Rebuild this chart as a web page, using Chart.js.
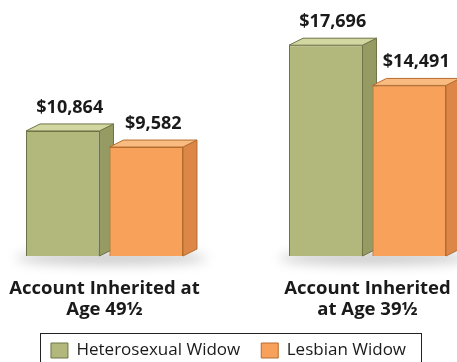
<!DOCTYPE html>
<html>
<head>
<meta charset="utf-8">
<title>Inherited Account Balances</title>
<script src="https://cdn.jsdelivr.net/npm/chart.js@4.4.1/dist/chart.umd.min.js"></script>
<style>
  html, body { margin: 0; padding: 0; background: #fff; overflow: hidden; }
  #wrap { width: 457px; height: 362px; overflow: hidden; }
</style>
</head>
<body>
<div id="wrap">
  <canvas id="inheritChart" width="457" height="369"></canvas>
</div>
<script>
// Chart data
const categories = [['Account Inherited at', 'Age 49½'], ['Account Inherited', 'at Age 39½']];
const heteroValues = [10864, 17696];
const lesbianValues = [9582, 14491];
const seriesNames = ['Heterosexual Widow', 'Lesbian Widow'];

// value axis range; bars stand on the floor of the axis
const Y_FLOOR = 900;
const Y_TOP = 20500;

// depth of the box faces, in pixels
const DEPTH_X = 14;
const DEPTH_Y = 7;
const FONT = "'Open Sans', 'DejaVu Sans', sans-serif";
const TEXT = '#1a1a1a';

const palette = [
    { front: '#b2b77c', side: '#969b64', top: '#d2d6a0', edge: '#6f7447' },
    { front: '#f8a15b', side: '#dc8747', top: '#f9bb80', edge: '#b56d30' }
];

function fillPoly(ctx, pts, fill, edge) {
    ctx.beginPath();
    ctx.moveTo(pts[0][0], pts[0][1]);
    for (let i = 1; i < pts.length; i++) ctx.lineTo(pts[i][0], pts[i][1]);
    ctx.closePath();
    ctx.fillStyle = fill;
    ctx.fill();
    ctx.strokeStyle = edge;
    ctx.lineWidth = 1;
    ctx.stroke();
}

// Side/top faces, floor shadow and value labels for the bars
const boxBars = {
    id: 'boxBars',
    beforeDatasetsDraw(chart) {
        const ctx = chart.ctx;
        const metas = chart.data.datasets.map((d, i) => chart.getDatasetMeta(i));
        categories.forEach((c, i) => {
            const first = metas[0].data[i];
            const last = metas[metas.length - 1].data[i];
            const left = first.x - first.width / 2;
            const right = last.x + last.width / 2 + DEPTH_X;
            ctx.save();
            ctx.filter = 'blur(6px)';
            ctx.fillStyle = 'rgba(0, 0, 0, 0.2)';
            ctx.beginPath();
            ctx.ellipse((left + right) / 2, first.base + 2, (right - left) / 2 + 10, 7, 0, 0, Math.PI * 2);
            ctx.fill();
            ctx.restore();
        });
    },
    afterDatasetsDraw(chart) {
        const ctx = chart.ctx;
        categories.forEach((c, i) => {
            chart.data.datasets.forEach((ds, d) => {
                const el = chart.getDatasetMeta(d).data[i];
                const p = palette[d];
                // later bars sit in front of the earlier bar's side face
                if (d > 0) el.draw(ctx);
                const x0 = el.x - el.width / 2;
                const x1 = el.x + el.width / 2;
                const top = el.y;
                const base = el.base;
                ctx.save();
                fillPoly(ctx, [[x1, top], [x1 + DEPTH_X, top - DEPTH_Y], [x1 + DEPTH_X, base - DEPTH_Y], [x1, base]], p.side, p.edge);
                fillPoly(ctx, [[x0, top], [x0 + DEPTH_X, top - DEPTH_Y], [x1 + DEPTH_X, top - DEPTH_Y], [x1, top]], p.top, p.edge);
                ctx.restore();
            });
        });
        // value labels
        ctx.save();
        ctx.font = 'bold 18px ' + FONT;
        ctx.fillStyle = TEXT;
        ctx.textAlign = 'center';
        ctx.textBaseline = 'alphabetic';
        chart.data.datasets.forEach((ds, d) => {
            chart.getDatasetMeta(d).data.forEach((el, i) => {
                const label = '$' + ds.data[i].toLocaleString('en-US');
                ctx.fillText(label, el.x + DEPTH_X / 2, el.y - DEPTH_Y - 11);
            });
        });
        ctx.restore();
    },
    afterDraw(chart) {
        // frame around the legend
        const lg = chart.legend;
        const boxes = lg.legendHitBoxes;
        if (!boxes || !boxes.length) return;
        const lastBox = boxes[boxes.length - 1];
        const left = Math.round(boxes[0].left - 11) + 0.5;
        const right = Math.round(lastBox.left + lastBox.width + 15) + 0.5;
        const top = Math.round(lg.top + 12) + 0.5;
        const ctx = chart.ctx;
        ctx.save();
        ctx.strokeStyle = '#222';
        ctx.lineWidth = 1;
        ctx.strokeRect(left, top, right - left, chart.height - top + 5);
        ctx.restore();
    }
};

const ctx = document.getElementById('inheritChart').getContext('2d');
new Chart(ctx, {
    type: 'bar',
    data: {
        labels: categories,
        datasets: [
            {
                label: seriesNames[0],
                data: heteroValues,
                backgroundColor: palette[0].front,
                borderColor: palette[0].edge,
                borderWidth: 1,
                base: Y_FLOOR,
                clip: false
            },
            {
                label: seriesNames[1],
                data: lesbianValues,
                backgroundColor: palette[1].front,
                borderColor: palette[1].edge,
                borderWidth: 1,
                base: Y_FLOOR,
                clip: false
            }
        ]
    },
    options: {
        responsive: false,
        animation: false,
        devicePixelRatio: 1,
        categoryPercentage: 0.635,
        barPercentage: 0.88,
        layout: {
            padding: { top: 10, left: 0, right: 0, bottom: 0 }
        },
        plugins: {
            tooltip: { enabled: false },
            legend: {
                position: 'bottom',
                labels: {
                    boxWidth: 17,
                    boxHeight: 15,
                    padding: 21,
                    color: TEXT,
                    font: { family: FONT, size: 17 }
                }
            }
        },
        scales: {
            x: {
                offset: false,
                grid: { display: false, drawTicks: false },
                border: { display: false },
                ticks: {
                    padding: 22.5,
                    color: TEXT,
                    maxRotation: 0,
                    font: { family: FONT, size: 18.5, weight: 'bold', lineHeight: '21px' }
                },
                // keep the category centres well inside the canvas
                afterFit(scale) {
                    scale.paddingLeft = 104.5;
                    scale.paddingRight = 89.5;
                    scale.height = 65;
                }
            },
            y: {
                display: false,
                min: Y_FLOOR,
                max: Y_TOP
            }
        }
    },
    plugins: [boxBars]
});
</script>
</body>
</html>
